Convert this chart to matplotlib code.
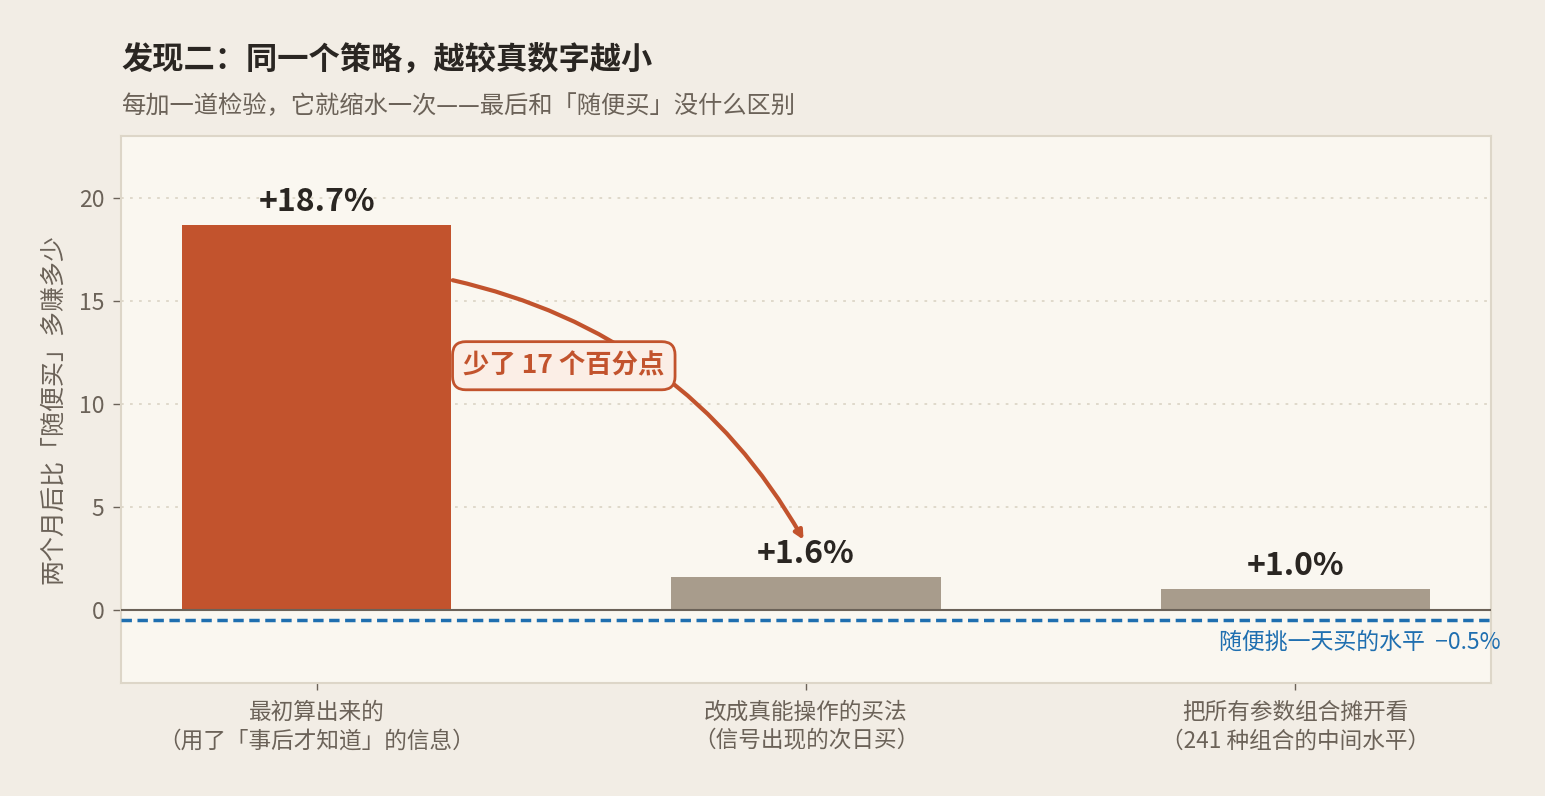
import matplotlib
matplotlib.use("Agg")
import matplotlib.pyplot as plt

plt.rcParams["font.family"] = ["Noto Sans CJK SC", "DejaVu Sans"]

# data
categories = ["最初算出来的\n（用了「事后才知道」的信息）",
              "改成真能操作的买法\n（信号出现的次日买）",
              "把所有参数组合摊开看\n（241 种组合的中间水平）"]
values = [18.7, 1.6, 1.0]
value_labels = ["+18.7%", "+1.6%", "+1.0%"]
random_level = -0.5
yticks = [0, 5, 10, 15, 20]

BG = "#f2ede5"
AX_BG = "#faf7f0"
RUST = "#c2532d"
TAUPE = "#a89c8c"
GRAY = "#6b6258"
LIGHT = "#ddd6c8"
BLUE = "#1f6fb0"
DARK = "#2a2622"

fig = plt.figure(figsize=(15.45, 7.96), dpi=100)
fig.patch.set_facecolor(BG)
ax = fig.add_axes([121 / 1545, 113 / 796, 1370 / 1545, 547 / 796])
ax.set_facecolor(AX_BG)

x = list(range(len(values)))
colors = [RUST, TAUPE, TAUPE]
ax.bar(x, values, width=0.55, color=colors, zorder=3)

for xi, v, lab in zip(x, values, value_labels):
    ax.annotate(lab, (xi, v), xytext=(0, 5), textcoords="offset points",
                ha="center", va="bottom", fontsize=23, fontweight="bold",
                color=DARK, zorder=5)

ax.axhline(0, color=GRAY, lw=1.5, zorder=4)
ax.axhline(random_level, color=BLUE, lw=2.5, dashes=(3, 1.6), zorder=4)
ax.text(1.007, random_level - 1.05, "随便挑一天买的水平  −0.5%",
        transform=ax.get_yaxis_transform(), ha="right", va="center",
        fontsize=16.5, color=BLUE, clip_on=False)

# drop arrow from first bar to second
ax.annotate("", xy=(0.995, values[1] + 1.8), xytext=(0.278, 16.0),
            arrowprops=dict(arrowstyle="-|>,head_length=0.5,head_width=0.25",
                            color=RUST, lw=3,
                            connectionstyle="arc3,rad=-0.22",
                            shrinkA=0, shrinkB=0),
            zorder=5)
ax.text(0.505, 11.85, "少了 17 个百分点", ha="center", va="center",
        fontsize=19, fontweight="bold", color=RUST, zorder=6,
        bbox=dict(boxstyle="round,pad=0.4,rounding_size=0.5",
                  facecolor="#fbeee6", edgecolor=RUST, lw=2))

ax.set_xlim(-0.4, 2.4)
ax.set_ylim(-3.55, 23)
ax.set_yticks(yticks)
ax.set_xticks(x)
ax.set_xticklabels(categories, fontsize=16.3, color=GRAY, linespacing=1.3)
ax.tick_params(axis="y", labelsize=16.5, labelcolor=GRAY, color=GRAY,
               length=6, width=1, pad=6)
ax.tick_params(axis="x", color=GRAY, length=5, width=1, pad=8)
ax.grid(axis="y", color=LIGHT, lw=1.3, linestyle=(0, (1.5, 3.5)), zorder=0)
for s in ax.spines.values():
    s.set_color(LIGHT)
    s.set_linewidth(1.5)

ax.set_ylabel("两个月后比「随便买」多赚多少", fontsize=18, color=GRAY, labelpad=9)

fig.text(121 / 1545, 1 - 60 / 796, "发现二：同一个策略，越较真数字越小",
         fontsize=22.5, fontweight="bold", color=DARK, ha="left", va="center")
fig.text(121 / 1545, 1 - 106 / 796,
         "每加一道检验，它就缩水一次——最后和「随便买」没什么区别",
         fontsize=17.5, color=GRAY, ha="left", va="center")

fig.savefig("out.png", dpi=100, facecolor=BG)
